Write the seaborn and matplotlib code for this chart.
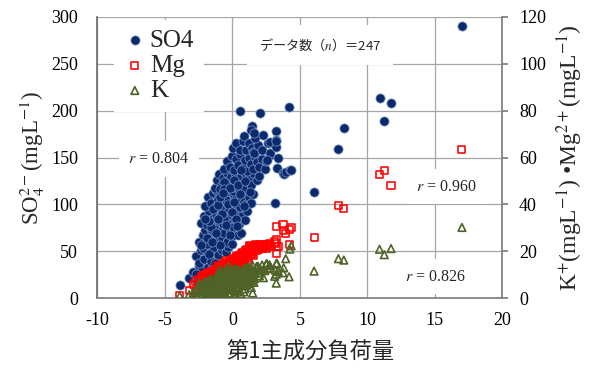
import matplotlib
matplotlib.use("Agg")
import matplotlib.pyplot as plt
import seaborn as sns
import pandas as pd

# ---- data ----
pc1 = [
    -3.9, -3.2, -2.9, -2.6, -2.5, -2.25, -2.0, -1.8, -2.7, -1.6,
    -2.7, -2.5, -2.3, -2.1, -1.9, -1.6, -1.4, -1.1, -0.8, -0.5, -2.2, -1.3, -0.3, -1.7,
    -2.45, -2.2, -2.0, -1.85, -1.6, -1.4, -1.2, -1.0, -0.8, -0.6, -0.4, -0.2, 0.0, 0.2, 0.45, 0.65, -1.55, -0.95, -0.05, -2.3,
    -2.3, -2.1, -1.9, -1.7, -1.5, -1.35, -1.2, -1.0, -0.85, -0.7, -0.55, -0.4, -0.25, -0.1, 0.05, 0.2, 0.35, 0.5, 0.7, 0.9, 1.1, -1.6, -0.95, 0.15, -0.65,
    -2.0, -1.8, -1.6, -1.45, -1.3, -1.1, -0.95, -0.8, -0.65, -0.5, -0.35, -0.2, -0.05, 0.1, 0.25, 0.4, 0.55, 0.7, 0.85, 1.0, 1.2, 1.4, 1.55, -1.2, -0.45, 0.3, -0.9, 0.05,
    -1.3, -1.15, -1.0, -0.85, -0.7, -0.55, -0.4, -0.25, -0.1, 0.05, 0.2, 0.35, 0.5, 0.65, 0.8, 0.95, 1.1, 1.25, 1.4, 1.6, 1.8, 2.0, -0.6, 0.1, 0.75, -0.95,
    -0.6, -0.4, -0.2, 0.0, 0.15, 0.3, 0.45, 0.6, 0.75, 0.9, 1.05, 1.2, 1.35, 1.5, 1.65, 1.8, 2.0, 2.2, 2.4, 0.63,
    0.05, 0.3, 0.55, 0.8, 0.87, 1.0, 1.25, 1.45, 1.5, 1.63, 1.9, 1.68, 2.2, 2.3, 2.63, 2.75, 2.75, 2.8, 2.5, 2.55,
    0.55, 2.05, 1.43, 1.35, 1.6,
    -1.75, -1.45, -1.25, -1.05, -0.9, -0.75, -0.6, -0.45, -0.3, -0.15, 0.0, 0.15, 0.3, 0.45, 0.6, -1.85, -2.05, -0.15, 0.85, 1.3, -1.5, 0.95, -0.7, -1.1, 0.35,
    3.25, 3.25, 3.25, 3.2, 3.3, 3.13, 3.4, 3.75, 3.8, 3.95, 4.2, 4.25, 4.35, 6.05, 7.85, 8.25, 10.9, 11.25, 11.75, 17.0,
]
so4 = [
    14, 22, 28, 19, 34, 31, 24, 33, 26, 30,
    45, 38, 52, 42, 50, 40, 54, 46, 52, 49, 54, 38, 55, 47,
    60, 68, 73, 58, 66, 71, 62, 75, 64, 70, 60, 74, 66, 72, 68, 70, 74, 57, 58, 57,
    80, 88, 78, 92, 84, 77, 90, 82, 94, 79, 87, 93, 80, 89, 76, 85, 92, 79, 88, 83, 93, 76, 88, 95, 85,
    98, 108, 102, 112, 97, 106, 114, 100, 109, 96, 112, 104, 98, 110, 101, 113, 97, 106, 114, 100, 108, 102, 111, 115, 105, 107, 96, 114,
    118, 126, 132, 120, 128, 117, 134, 122, 129, 119, 133, 124, 116, 130, 122, 134, 118, 128, 121, 132, 126, 130, 124, 126, 117, 116,
    138, 146, 140, 152, 137, 148, 142, 154, 139, 147, 136, 150, 143, 138, 151, 145, 140, 148, 138, 137,
    160, 165, 158, 168, 173, 158, 165, 160, 156, 155, 163, 171, 158, 174, 165, 167, 153, 155, 146, 147,
    200, 197, 184, 179, 176,
    82, 95, 70, 99, 108, 90, 116, 78, 101, 118, 92, 103, 84, 121, 111, 64, 84, 67, 98, 113, 60, 125, 112, 85, 77,
    178, 169, 161, 168, 139, 102, 150, 133, 132, 135, 204, 137, 137, 113, 159, 181, 213, 189, 208, 290,
]
mg = [
    1.2, 3.5, 6.0, 4.2, 8.0, 5.6, 7.4, 4.8, 2.8, 9.2,
    7.0, 3.6, 8.6, 6.2, 10.4, 5.4, 11.2, 7.8, 12.6, 9.6, 4.4, 8.8, 14.2, 10.8,
    5.8, 8.2, 10.0, 3.8, 9.8, 6.6, 12.0, 8.4, 13.4, 6.4, 11.8, 14.8, 9.0, 16.2, 12.4, 17.6, 11.4, 7.2, 13.0, 9.4,
    6.8, 9.6, 4.6, 10.2, 7.4, 11.6, 8.0, 13.2, 10.6, 6.0, 14.0, 9.4, 15.0, 11.0, 15.6, 10.4, 16.8, 13.6, 18.8, 15.2, 19.8, 8.6, 5.8, 13.8, 12.2,
    8.8, 5.2, 10.8, 7.0, 12.4, 9.2, 13.6, 7.6, 11.0, 14.4, 9.8, 15.8, 12.2, 16.6, 11.2, 17.2, 14.2, 18.2, 13.0, 19.4, 16.0, 21.0, 18.4, 6.2, 12.8, 9.6, 10.0, 14.8,
    9.0, 11.8, 6.8, 13.0, 8.2, 15.2, 10.6, 13.8, 8.6, 16.4, 12.0, 17.8, 14.6, 19.0, 15.4, 20.2, 17.0, 21.6, 18.6, 22.2, 20.4, 22.6, 11.6, 10.0, 13.2, 8.4,
    12.4, 9.2, 14.6, 11.0, 16.0, 13.0, 18.4, 15.0, 19.6, 16.4, 20.6, 17.8, 22.0, 19.2, 22.4, 20.8, 23.0, 21.2, 22.8, 14.0,
    13.6, 17.0, 15.6, 18.6, 16.8, 20.0, 22.5, 19.8, 21.4, 22.2, 21.0, 23.0, 22.0, 21.6, 22.8, 22.0, 23.2, 22.4, 21.4, 22.6,
    18.0, 21.8, 21.2, 20.6, 22.0,
    6.4, 9.0, 10.2, 12.8, 8.2, 14.6, 10.4, 16.0, 12.6, 9.8, 17.0, 13.4, 18.0, 11.8, 16.8, 8.0, 5.0, 11.4, 17.4, 20.0, 4.0, 12.0, 7.0, 13.8, 15.4,
    25.0, 22.0, 19.3, 23.5, 30.5, 24.0, 22.0, 31.3, 29.0, 27.5, 22.8, 29.5, 30.2, 25.8, 39.6, 38.2, 52.6, 54.5, 48.0, 63.5,
]
k = [
    1.0, 1.6, 2.4, 0.8, 4.4, 3.0, 1.5, 5.8, 3.6, 2.2,
    1.2, 5.2, 2.8, 6.8, 0.9, 4.2, 7.6, 3.4, 9.2, 1.8, 3.8, 8.4, 5.6, 2.6,
    6.4, 2.0, 4.2, 7.2, 1.4, 5.4, 8.8, 2.6, 6.2, 10.2, 3.8, 7.4, 11.2, 1.6, 6.8, 9.6, 4.6, 9.8, 4.4, 0.6,
    3.2, 5.8, 1.2, 7.8, 3.6, 6.0, 2.0, 9.0, 4.8, 7.0, 1.0, 8.6, 13.6, 5.0, 7.8, 3.0, 10.6, 6.2, 11.4, 4.0, 8.8, 8.2, 5.6, 12.2, 2.8,
    6.6, 2.4, 8.0, 4.0, 1.6, 7.2, 10.4, 3.6, 9.4, 5.2, 11.0, 2.2, 8.0, 6.4, 12.0, 3.4, 9.2, 5.8, 10.8, 7.6, 12.8, 4.6, 11.6, 5.0, 12.4, 7.0, 0.8, 9.8,
    3.0, 7.4, 5.4, 10.0, 2.6, 8.2, 11.6, 4.2, 9.0, 6.0, 12.6, 3.8, 10.2, 7.0, 12.0, 5.4, 13.4, 9.0, 11.0, 6.8, 13.6, 12.6, 6.6, 1.4, 8.4, 12.2,
    4.8, 9.6, 7.2, 11.8, 3.2, 10.4, 12.2, 6.6, 9.4, 12.8, 5.6, 13.0, 8.6, 14.0, 10.6, 13.2, 9.6, 14.2, 11.8, 2.0,
    8.2, 5.0, 11.0, 7.8, 11.8, 9.8, 6.2, 12.4, 2.3, 8.4, 13.6, 11.2, 12.0, 8.8, 12.6, 14.3, 14.0, 13.0, 14.6, 14.8,
    7.0, 10.8, 7.4, 12.0, 9.0,
    5.0, 0.8, 6.8, 3.0, 8.0, 11.4, 1.8, 6.0, 10.0, 3.6, 8.4, 1.2, 9.0, 4.4, 10.8, 3.0, 7.0, 12.0, 2.8, 8.2, 4.8, 11.2, 6.4, 10.6, 0.6,
    10.3, 6.5, 14.8, 12.0, 15.0, 9.4, 11.5, 10.9, 13.0, 16.9, 9.2, 21.0, 22.4, 11.6, 16.9, 16.3, 20.9, 18.6, 21.2, 30.2,
]
x_ticks = [-10, -5, 0, 5, 10, 15, 20]
left_ticks = [0, 50, 100, 150, 200, 250, 300]
right_ticks = [0, 20, 40, 60, 80, 100, 120]
series_labels = ["SO4", "Mg", "K"]
r_labels = ["0.804", "0.960", "0.826"]
n_count = 247

df = pd.DataFrame({"pc1": pc1, "so4": so4, "mg": mg, "k": k})

sns.set_theme(style="white")
plt.rcParams["font.family"] = ["Liberation Serif", "Noto Sans CJK JP", "DejaVu Sans"]
plt.rcParams["mathtext.fontset"] = "stix"

fig = plt.figure(figsize=(6.01, 3.72), dpi=100)
ax = fig.add_axes([0.162, 0.198, 0.674, 0.757])
ax2 = ax.twinx()

grid_c = "#A6A6A6"
sns.scatterplot(data=df, x="pc1", y="so4", ax=ax, marker="o", s=44,
                color="#0B2A6B", edgecolor="#7E9BCB", linewidth=0.5,
                label=series_labels[0], legend=False, zorder=3)
sns.scatterplot(data=df, x="pc1", y="mg", ax=ax2, marker="s", s=26,
                color="#FF0000", facecolor="none", edgecolor="#FF0000", linewidth=1.15,
                label=series_labels[1], legend=False, zorder=3)
sns.scatterplot(data=df, x="pc1", y="k", ax=ax2, marker="^", s=30,
                color="#4F6228", facecolor="none", edgecolor="#4F6228", linewidth=1.2,
                label=series_labels[2], legend=False, zorder=4)

ax.set_xlim(-10, 20)
ax.set_ylim(0, 300)
ax2.set_ylim(0, 120)
ax.set_xticks(x_ticks)
ax.set_xticklabels([str(v) for v in x_ticks])
ax.set_yticks(left_ticks)
ax2.set_yticks(right_ticks)

ax.grid(True, color=grid_c, linewidth=0.9)
ax.set_axisbelow(True)
ax2.grid(False)

ax.spines["top"].set_visible(False)
ax2.spines["top"].set_visible(False)
ax.spines["left"].set_color("#6F6F6F")
ax.spines["bottom"].set_color("#7F7F7F")
ax2.spines["right"].set_color("#7F7F7F")
ax2.spines["left"].set_visible(False)
ax2.spines["bottom"].set_visible(False)
ax.spines["right"].set_visible(False)

ax.tick_params(axis="y", length=0, pad=14, labelsize=13, colors="black")
ax.tick_params(axis="x", length=0, pad=10, labelsize=13, colors="black")
ax2.tick_params(axis="y", which="major", direction="out", length=4,
                color="#7F7F7F", pad=8, labelsize=13, labelcolor="black")

ax.set_xlabel("第1主成分負荷量", fontsize=16, family=["Noto Sans CJK JP"])
ax.xaxis.set_label_coords(0.525, -0.148)
ax.set_ylabel(r"SO$_4^{2-}$(mgL$^{-1}$)", fontsize=16.5, labelpad=3)
ax2.set_ylabel(r"K$^{+}$(mgL$^{-1}$) •Mg$^{2+}$(mgL$^{-1}$)", fontsize=17,
               rotation=90, labelpad=6)

h1, l1 = ax.get_legend_handles_labels()
h2, l2 = ax2.get_legend_handles_labels()
leg = ax2.legend(h1 + h2, l1 + l2, loc="upper left", bbox_to_anchor=(0.04, 0.99),
                 fontsize=18, frameon=True, facecolor="white", edgecolor="none",
                 framealpha=1, handletextpad=0.15, labelspacing=0.1, borderpad=0.4,
                 borderaxespad=0.0, handlelength=0.9, fancybox=False)
leg.set_zorder(10)

box = dict(boxstyle="square,pad=0.6", fc="white", ec="none")
ax2.text(0.55, 0.90, "データ数（$n$）＝" + str(n_count), transform=ax.transAxes,
         ha="center", va="center", fontsize=9.5, family=["Noto Sans CJK JP"],
         bbox=dict(boxstyle="square,pad=0.9", fc="white", ec="none"), zorder=5)
ax2.text(0.152, 0.495, "$r$ = " + r_labels[0], transform=ax.transAxes,
         ha="center", va="center", fontsize=11.5, bbox=box, zorder=5)
ax2.text(0.862, 0.396, "$r$ = " + r_labels[1], transform=ax.transAxes,
         ha="center", va="center", fontsize=11.5, bbox=box, zorder=5)
ax2.text(0.834, 0.077, "$r$ = " + r_labels[2], transform=ax.transAxes,
         ha="center", va="center", fontsize=11.5, bbox=box, zorder=5)

fig.savefig("out.png", dpi=100)
